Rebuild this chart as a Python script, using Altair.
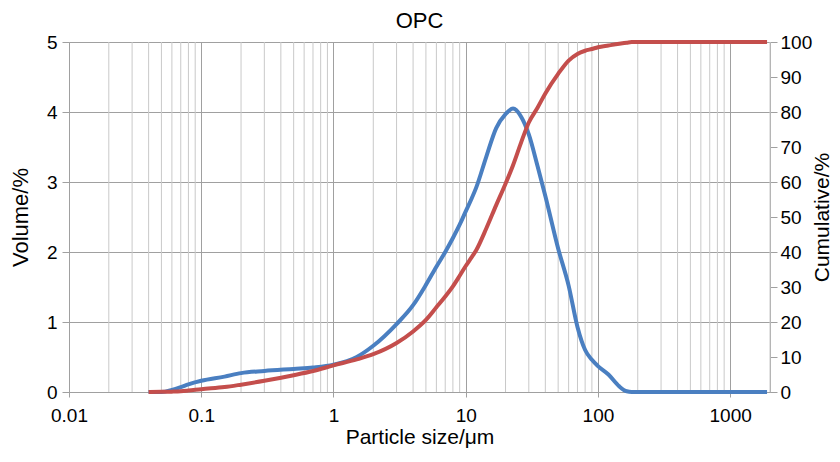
import altair as alt
import pandas as pd

# Particle size (µm)
sizes = [0.04, 0.05, 0.06, 0.07, 0.08, 0.1, 0.15, 0.2, 0.3, 0.5, 0.7, 1, 1.5, 2, 3, 4, 5, 6, 7, 8,
         9, 10, 11, 12, 14.3, 17, 20, 22.8, 26.3, 30, 35, 40, 50, 60, 70, 80, 90, 100, 120, 145,
         165, 180, 300, 1000, 1900]
# Volume (%)
volume = [0, 0, 0.03, 0.07, 0.11, 0.16, 0.22, 0.27, 0.30, 0.33, 0.35, 0.39, 0.50, 0.66, 0.97,
          1.24, 1.53, 1.79, 2.0, 2.2, 2.39, 2.58, 2.75, 2.92, 3.36, 3.77, 3.97, 4.05, 3.93, 3.68,
          3.22, 2.8, 2.05, 1.52, 0.93, 0.60, 0.46, 0.37, 0.25, 0.08, 0.01, 0, 0, 0, 0]
# Cumulative (%)
cumulative = [0, 0.05, 0.1, 0.2, 0.4, 0.8, 1.4, 2.1, 3.2, 4.8, 6.0, 7.6, 9.3, 10.8, 14.0,
              17.3, 20.6, 24.2, 27.3, 30.2, 33.2, 36.0, 38.3, 40.5, 46.7, 53.4, 59.5, 64.8, 71.4,
              77.0, 81.3, 85.3, 90.9, 94.7, 96.6, 97.5, 98.0, 98.5, 99.0, 99.5, 99.8, 100, 100,
              100, 100]

major_ticks = [0.01, 0.1, 1, 10, 100, 1000]
minor_grid = [m * d for d in [0.01, 0.1, 1, 10, 100] for m in range(2, 10)] + [2000]
left_ticks = [0, 1, 2, 3, 4, 5]
right_ticks = list(range(0, 101, 10))

df = pd.DataFrame({"size": sizes, "volume": volume, "cumulative": cumulative})
grid_df = pd.DataFrame({"size": minor_grid})

FONT = "Liberation Sans"
GRID_MAJOR = "#a0a0a0"
GRID_MINOR = "#c9c9c9"

xscale = alt.Scale(type="log", domain=[0.01, 2000], nice=False)
xaxis = alt.Axis(values=major_ticks, format="~g", title="Particle size/μm", grid=True,
                 gridColor=GRID_MAJOR, tickSize=5, labelPadding=9, titlePadding=1,
                 titleFontSize=21, labelFlush=False, labelOverlap=False)

minor = alt.Chart(grid_df).mark_rule(color=GRID_MINOR, strokeWidth=1).encode(
    x=alt.X("size:Q", scale=xscale, axis=xaxis)
)

blue = alt.Chart(df).mark_line(color="#4a7fc1", strokeWidth=4, interpolate="monotone").encode(
    x=alt.X("size:Q", scale=xscale, axis=xaxis),
    y=alt.Y("volume:Q", scale=alt.Scale(domain=[0, 5], nice=False),
            axis=alt.Axis(values=left_ticks, title="Volume/%", grid=True, gridColor=GRID_MAJOR,
                          tickSize=7, labelPadding=5, titlePadding=14, orient="left")),
)

red = alt.Chart(df).mark_line(color="#c44e4c", strokeWidth=4, interpolate="monotone").encode(
    x=alt.X("size:Q", scale=xscale, axis=xaxis),
    y=alt.Y("cumulative:Q", scale=alt.Scale(domain=[0, 100], nice=False),
            axis=alt.Axis(values=right_ticks, title="Cumulative/%", grid=False,
                          tickSize=7, labelPadding=3, titlePadding=0, orient="right",
                          titleAngle=270, titleBaseline="top", titleFontSize=21)),
)

chart = (
    alt.layer(minor, blue, red)
    .resolve_scale(y="independent")
    .properties(
        width=701,
        height=350,
        autosize=alt.AutoSizeParams(type="none"),
        padding={"left": 61, "top": 34, "right": 62, "bottom": 56},
        title=alt.Title("OPC", fontSize=22, font=FONT, fontWeight="normal", color="black",
                        anchor="middle", offset=0),
    )
    .configure_view(strokeWidth=0)
    .configure_axis(
        labelFont=FONT, labelFontSize=19, labelColor="black",
        titleFont=FONT, titleFontSize=22, titleFontWeight="normal", titleColor="black",
        domainColor=GRID_MAJOR, tickColor=GRID_MAJOR,
    )
)

chart.save("out.html", embed_options={"renderer": "svg", "actions": False})
